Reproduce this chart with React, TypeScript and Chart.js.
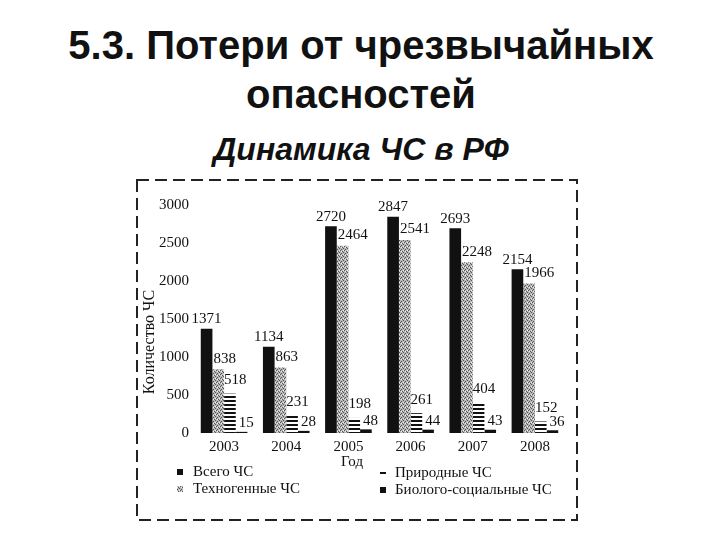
import React, { useEffect, useRef } from "react";
import { Chart, registerables } from "chart.js";

Chart.register(...registerables);

const years = ["2003", "2004", "2005", "2006", "2007", "2008"];
const totalCS = [1371, 1134, 2720, 2847, 2693, 2154];
const technoCS = [838, 863, 2464, 2541, 2248, 1966];
const naturalCS = [518, 231, 198, 261, 404, 152];
const bioSocialCS = [15, 28, 48, 44, 43, 36];
const seriesNames = ["Всего ЧС", "Техногенные ЧС", "Природные ЧС", "Биолого-социальные ЧС"];
const yTickValues = [0, 500, 1000, 1500, 2000, 2500, 3000];
const xTitle = "Год";
const yTitle = "Количество ЧС";

const SERIF = "'Liberation Serif', 'DejaVu Serif', serif";

function makeTechPattern(): CanvasPattern | string {
  const c = document.createElement("canvas");
  c.width = 4;
  c.height = 4;
  const g = c.getContext("2d");
  if (!g) return "#999";
  g.fillStyle = "#b8b8b8";
  g.fillRect(0, 0, 4, 4);
  g.fillStyle = "#555";
  [[0, 0], [2, 1], [1, 2], [3, 3]].forEach(([x, y]) => g.fillRect(x, y, 1, 1));
  g.fillStyle = "#eee";
  [[2, 3], [0, 2]].forEach(([x, y]) => g.fillRect(x, y, 1, 1));
  return g.createPattern(c, "repeat") || "#999";
}

function makeStripePattern(): CanvasPattern | string {
  const c = document.createElement("canvas");
  c.width = 4;
  c.height = 4;
  const g = c.getContext("2d");
  if (!g) return "#666";
  g.fillStyle = "#fff";
  g.fillRect(0, 0, 4, 4);
  g.fillStyle = "#111";
  g.fillRect(0, 0, 4, 2);
  return g.createPattern(c, "repeat") || "#666";
}

const customPlugin = {
  id: "customDecor",
  afterDatasetsDraw(chart: any) {
    const ctx = chart.ctx;
    ctx.save();
    ctx.font = `15px ${SERIF}`;
    ctx.fillStyle = "#111";
    ctx.textBaseline = "bottom";
    chart.data.datasets.forEach((ds: any, di: number) => {
      const meta = chart.getDatasetMeta(di);
      meta.data.forEach((bar: any, i: number) => {
        const v = ds.data[i];
        const w = bar.width;
        let x = bar.x;
        let y = bar.y - 2;
        if (di === 0) {
          ctx.textAlign = "center";
        } else if (di === 1) {
          ctx.textAlign = "left";
          x = bar.x - w / 2 + 1;
          y = bar.y - 3;
        } else if (di === 2) {
          ctx.textAlign = "left";
          x = bar.x - w / 2;
          y = bar.y - 6;
        } else {
          ctx.textAlign = "left";
          x = bar.x - w / 2 + 3;
          y = bar.y - 1;
        }
        ctx.fillText(String(v), x, y);
      });
    });
    ctx.restore();
  },
  afterDraw(chart: any) {
    const ctx = chart.ctx;
    ctx.save();
    // dashed frame
    ctx.strokeStyle = "#222";
    ctx.lineWidth = 2;
    ctx.setLineDash([12, 6]);
    ctx.strokeRect(2, 4, 440, 340);
    ctx.setLineDash([]);

    // axis titles
    ctx.fillStyle = "#111";
    ctx.font = `15px ${SERIF}`;
    ctx.textAlign = "center";
    ctx.textBaseline = "middle";
    ctx.fillText(xTitle, 217, 286);
    ctx.save();
    ctx.translate(15, 166);
    ctx.rotate(-Math.PI / 2);
    ctx.font = `16px ${SERIF}`;
    ctx.fillText(yTitle, 0, 0);
    ctx.restore();

    // legend
    const positions = [
      { mx: 45, my: 296, tx: 58 },
      { mx: 45, my: 313, tx: 58 },
      { mx: 248, my: 297, tx: 260 },
      { mx: 248, my: 314, tx: 260 },
    ];
    ctx.font = `15px ${SERIF}`;
    ctx.textAlign = "left";
    ctx.textBaseline = "middle";
    chart.data.datasets.forEach((ds: any, di: number) => {
      const p = positions[di];
      ctx.fillStyle = ds.backgroundColor;
      ctx.fillRect(p.mx - 3, p.my - 3, 6, 6);
      ctx.fillStyle = "#111";
      ctx.fillText(ds.label, p.tx, p.my);
    });
    ctx.restore();
  },
};

function ChartView() {
  const ref = useRef<HTMLCanvasElement | null>(null);
  useEffect(() => {
    if (!ref.current) return;
    const tech = makeTechPattern();
    const stripe = makeStripePattern();
    const chart = new Chart(ref.current, {
      type: "bar",
      data: {
        labels: years,
        datasets: [
          { label: seriesNames[0], data: totalCS, backgroundColor: "#111" },
          { label: seriesNames[1], data: technoCS, backgroundColor: tech as any },
          { label: seriesNames[2], data: naturalCS, backgroundColor: stripe as any },
          { label: seriesNames[3], data: bioSocialCS, backgroundColor: "#111" },
        ],
      },
      options: {
        animation: false,
        responsive: false,
        maintainAspectRatio: false,
        devicePixelRatio: 1,
        layout: { padding: { left: 0, top: 29, right: 14, bottom: 61 } },
        datasets: { bar: { categoryPercentage: 0.75, barPercentage: 1 } },
        plugins: {
          legend: { display: false },
          tooltip: { enabled: false },
          title: { display: false },
        },
        scales: {
          x: {
            grid: { display: false, drawTicks: false },
            border: { display: false },
            ticks: { color: "#111", font: { family: SERIF, size: 15 }, padding: 5 },
            afterFit: (s: any) => {
              s.height = 30;
            },
          },
          y: {
            min: 0,
            max: 3000,
            afterBuildTicks: (s: any) => {
              s.ticks = yTickValues.map((v) => ({ value: v }));
            },
            grid: { display: false, drawTicks: false },
            border: { display: false },
            ticks: {
              color: "#111",
              font: { family: SERIF, size: 15 },
              padding: 4,
              callback: (v: any) => String(v),
            },
            afterFit: (s: any) => {
              s.width = 58;
            },
          },
        },
      },
      plugins: [customPlugin],
    });
    return () => chart.destroy();
  }, []);
  return (
    <canvas
      ref={ref}
      width={445}
      height={348}
      style={{ position: "absolute", left: 135, top: 176, width: 445, height: 348 }}
    />
  );
}

export default function App() {
  const sans = "'Liberation Sans', Arial, sans-serif";
  return (
    <div style={{ position: "absolute", left: 0, top: 0, width: 720, height: 540, background: "#fff", overflow: "hidden" }}>
      <div
        style={{
          position: "absolute",
          left: 0,
          top: 21,
          width: 722,
          textAlign: "center",
          fontFamily: sans,
          fontWeight: "bold",
          fontSize: 40,
          lineHeight: "49px",
          color: "#111",
        }}
      >
        5.3. Потери от чрезвычайных
        <br />
        опасностей
      </div>
      <div
        style={{
          position: "absolute",
          left: 0,
          top: 130,
          width: 722,
          textAlign: "center",
          fontFamily: sans,
          fontWeight: "bold",
          fontStyle: "italic",
          fontSize: 32,
          lineHeight: "38px",
          color: "#111",
        }}
      >
        Динамика ЧС в РФ
      </div>
      <ChartView />
    </div>
  );
}
